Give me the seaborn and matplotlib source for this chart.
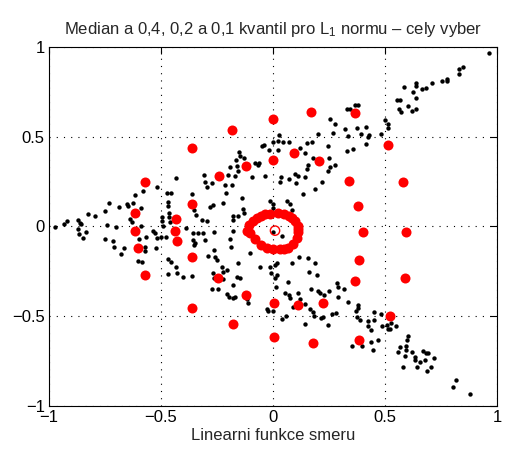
import matplotlib
matplotlib.use("Agg")
import matplotlib.pyplot as plt
import seaborn as sns
import pandas as pd

# ---------------- data ----------------
title_text = "Median a 0,4, 0,2 a 0,1 kvantil pro L$_1$ normu \u2013 cely vyber"
xlabel_text = "Linearni funkce smeru"
tick_values = [-1, -0.5, 0, 0.5, 1]
tick_labels = ["\u22121", "\u22120.5", "0", "0.5", "1"]

# black points (x, y)
black_x = [
    0.329, 0.254, 0.277, 0.321, 0.266, 0.336, 0.199, 0.028, 0.024, 0.043, 0.001, 0.073, 0.153, 0.176,
    -0.051, -0.040, -0.018, 0.024, 0.121, 0.143, 0.244, 0.329, -0.152, -0.147, -0.129, -0.165, 0.180, 0.251,
    0.964, 0.850, 0.830, 0.830, 0.778, 0.778, 0.753, 0.708, 0.637, 0.637, 0.682, 0.664, 0.585, 0.626,
    0.638, 0.552, 0.567, 0.601, 0.564, 0.571, 0.619, 0.637, 0.344, 0.366, 0.381, 0.500, 0.515, 0.512,
    0.376, 0.415, 0.391, 0.430, 0.423, 0.481, 0.414, 0.359,
    -0.973, -0.932, -0.921, -0.872, -0.862, -0.857, -0.825, -0.795, -0.750, -0.731, -0.686, -0.653,
    -0.646, -0.626, -0.616, -0.591, -0.579, -0.519, -0.433, -0.475, -0.455, -0.360, -0.470, -0.467,
    -0.353, -0.344, -0.463, -0.463, -0.497, -0.497, -0.460, -0.638, -0.631, -0.743, -0.701, -0.589,
    -0.390, -0.492, -0.869, -0.835, -0.865, -0.847, -0.534, -0.527, -0.519, -0.500, -0.478, -0.359,
    -0.356, -0.353, -0.598, -0.568, -0.750, -0.716, -0.710, -0.664, -0.679, -0.571, -0.571, -0.522,
    -0.604, -0.586, -0.467, -0.455, -0.433, -0.400, -0.360, -0.470,
    -0.080, -0.068, -0.061, -0.192, -0.162, -0.155, 0.158, 0.153, 0.254, 0.277, 0.247, -0.308,
    -0.304, -0.274, -0.296, -0.200, -0.170, -0.095, -0.036, 0.034, 0.031, 0.070, 0.098, 0.113, 0.103,
    0.143, 0.217, -0.210, -0.214, -0.184, -0.140, -0.013, -0.001, -0.001, 0.061, 0.076, 0.083, 0.135,
    0.188, -0.281, -0.266, -0.222, -0.133, -0.129, -0.318, -0.296, -0.180, -0.177, -0.155, -0.333,
    -0.311, -0.262, -0.177, -0.348, -0.304, -0.192, -0.189, -0.263, 0.001, 0.042, -0.289, -0.259,
    -0.251, -0.229, -0.207, -0.155, -0.162, -0.147, -0.103, -0.058, -0.013, 0.009, 0.019, 0.083,
    0.117, 0.158, 0.188, 0.162, 0.198, 0.009, 0.016,
    -0.427,
    -0.266, -0.225, -0.263, -0.222, -0.274, -0.244, -0.177, -0.204, -0.195, -0.180, -0.170, -0.115,
    -0.110, -0.009, 0.013, 0.068, 0.054, 0.073, 0.076, 0.113, 0.121, 0.143, 0.091, 0.168, 0.202,
    0.210, 0.228, 0.251, 0.284, 0.292, 0.317, 0.336, 0.292, 0.165, 0.177, 0.185, 0.213, 0.225,
    0.244, 0.265, 0.281, 0.143, 0.058, 0.039, -0.025, -0.021, -0.001,
    0.381, 0.381, 0.371, 0.373, 0.388, 0.452, 0.481, 0.426, 0.451, 0.423, 0.438, 0.485, 0.510,
    0.525, 0.548, 0.512, 0.522, 0.470, 0.438, 0.445, 0.354, 0.399, 0.604, 0.597, 0.567, 0.594,
    0.559, 0.594, 0.589, 0.619, 0.634, 0.634, 0.656, 0.671, 0.683, 0.693, 0.679, 0.719, 0.644,
    0.579, 0.705, 0.686, 0.817, 0.805, 0.879,
]
black_y = [
    0.657, 0.601, 0.569, 0.542, 0.521, 0.503, 0.516, 0.508, 0.477, 0.468, 0.468, 0.468, 0.466, 0.469,
    0.447, 0.453, 0.425, 0.425, 0.440, 0.412, 0.447, 0.421, 0.416, 0.392, 0.382, 0.373, 0.382, 0.379,
    0.966, 0.888, 0.879, 0.847, 0.823, 0.810, 0.810, 0.799, 0.801, 0.782, 0.771, 0.768, 0.777, 0.749,
    0.718, 0.703, 0.703, 0.669, 0.657, 0.638, 0.643, 0.657, 0.657, 0.675, 0.679, 0.592, 0.569, 0.551,
    0.549, 0.555, 0.518, 0.508, 0.499, 0.514, 0.457, 0.429,
    -0.001, 0.014, 0.032, 0.036, 0.021, 0.014, 0.068, 0.058, 0.086, 0.129, 0.107, 0.123,
    0.116, 0.132, 0.175, 0.104, 0.197, 0.218, 0.268, 0.188, 0.188, 0.181, 0.138, 0.114,
    0.092, 0.066, 0.077, 0.055, 0.051, 0.031, 0.027, 0.040, 0.027, 0.007, -0.001, 0.003,
    -0.007, 0.003, -0.016, -0.029, -0.043, -0.066, -0.025, -0.034, -0.066, -0.060, -0.060, -0.034,
    -0.075, -0.103, -0.071, -0.060, -0.071, -0.079, -0.112, -0.118, -0.154, -0.116, -0.136, -0.118,
    -0.192, -0.199, -0.181, -0.199, -0.223, -0.279, -0.273, -0.264,
    0.354, 0.342, 0.351, 0.332, 0.336, 0.310, 0.342, 0.318, 0.332, 0.342, 0.310, 0.286,
    0.249, 0.243, 0.221, 0.286, 0.281, 0.277, 0.281, 0.277, 0.249, 0.262, 0.292, 0.281, 0.243,
    0.277, 0.249, 0.184, 0.231, 0.231, 0.160, 0.143, 0.125, 0.101, 0.143, 0.125, 0.092, 0.179,
    0.207, 0.110, 0.119, 0.132, 0.095, 0.073, 0.036, 0.032, 0.036, 0.060, 0.058, -0.034,
    -0.034, -0.029, -0.023, -0.093, -0.075, -0.071, -0.112, -0.131, -0.029, -0.053, -0.164, -0.171,
    -0.186, -0.223, -0.242, -0.201, -0.279, -0.288, -0.149, -0.223, -0.227, -0.214, -0.201, -0.205,
    -0.168, -0.173, -0.201, -0.255, -0.269, -0.288, -0.269,
    -0.257,
    -0.257, -0.251, -0.288, -0.293, -0.349, -0.349, -0.325, -0.375, -0.390, -0.399, -0.395, -0.405,
    -0.427, -0.257, -0.338, -0.310, -0.371, -0.381, -0.399, -0.368, -0.405, -0.431, -0.449, -0.349, -0.362,
    -0.371, -0.381, -0.357, -0.316, -0.338, -0.349, -0.421, -0.390, -0.460, -0.479, -0.501, -0.510, -0.504,
    -0.547, -0.486, -0.482, -0.542, -0.501, -0.516, -0.460, -0.473, -0.468,
    -0.436, -0.454, -0.473, -0.504, -0.519, -0.479, -0.486, -0.529, -0.523, -0.553, -0.575, -0.553, -0.547,
    -0.538, -0.553, -0.571, -0.571, -0.631, -0.645, -0.686, -0.664, -0.664, -0.608, -0.631, -0.671, -0.664,
    -0.701, -0.690, -0.719, -0.701, -0.727, -0.746, -0.757, -0.696, -0.705, -0.705, -0.742, -0.732, -0.782,
    -0.782, -0.782, -0.807, -0.853, -0.896, -0.932,
]

# red quantile points: 0.1 quantile (outer), 0.2 quantile (middle), 0.4 quantile (inner ring)
red_x = [
    -0.571, -0.604, -0.616, -0.616, -0.571, -0.360, -0.184, 0.001, 0.168, 0.366, 0.515, 0.582,
    0.594, 0.589, 0.522, 0.384, 0.180, 0.006, -0.180, -0.363,
    -0.433, -0.438, -0.427, -0.360, -0.360, -0.244, -0.121, 0.006, 0.110, 0.222, 0.366, 0.385,
    0.400, 0.381, 0.339, 0.207, 0.094, 0.001, -0.121, -0.240,
    -0.054, -0.034, -0.013, 0.021, 0.048, 0.073, 0.086, 0.098, 0.110, 0.112, 0.113, 0.106, 0.090,
    0.068, 0.050, 0.031, -0.001, -0.028, -0.054, -0.080, -0.103, -0.115, -0.106, -0.088, -0.072,
]
red_y = [
    -0.272, -0.121, -0.023, 0.077, 0.246, 0.440, 0.536, 0.601, 0.636, 0.631, 0.453, 0.246,
    -0.029, -0.288, -0.501, -0.631, -0.649, -0.616, -0.542, -0.453,
    0.040, -0.025, -0.081, 0.123, -0.171, -0.289, -0.381, -0.427, -0.436, -0.427, -0.306, -0.186,
    -0.029, 0.114, 0.254, 0.364, 0.410, 0.372, 0.338, 0.281,
    0.060, 0.068, 0.069, 0.073, 0.070, 0.058, 0.048, 0.032, 0.003, -0.015, -0.032, -0.066, -0.095,
    -0.118, -0.125, -0.127, -0.127, -0.120, -0.103, -0.071, -0.038, -0.025, 0.008, 0.032, 0.048,
]

# median (open circle)
median_x = [0.009]
median_y = [-0.023]

# ---------------- plot ----------------
sns.set_style("white")
plt.rcParams["font.family"] = ["Liberation Sans", "DejaVu Sans"]
plt.rcParams["mathtext.fontset"] = "custom"
plt.rcParams["mathtext.rm"] = "Liberation Sans"
plt.rcParams["mathtext.it"] = "Liberation Sans"
plt.rcParams["mathtext.default"] = "regular"

black_df = pd.DataFrame({"x": black_x, "y": black_y})
red_df = pd.DataFrame({"x": red_x, "y": red_y})
med_df = pd.DataFrame({"x": median_x, "y": median_y})

fig = plt.figure(figsize=(5.06, 4.54), dpi=100)
ax = fig.add_axes([49 / 506, 48 / 454, 448 / 506, 359 / 454])

sns.scatterplot(data=black_df, x="x", y="y", color="black", s=10, linewidth=0, ax=ax, zorder=3)
sns.scatterplot(data=red_df, x="x", y="y", color="red", s=52, linewidth=0, ax=ax, zorder=4)
sns.scatterplot(data=med_df, x="x", y="y", color="red", facecolor="none", edgecolor="red",
                s=45, linewidth=1.0, ax=ax, zorder=5)

ax.set_xlim(-1, 1)
ax.set_ylim(-1, 1)
ax.set_xticks(tick_values)
ax.set_xticklabels(tick_labels)
ax.set_yticks(tick_values)
ax.set_yticklabels(tick_labels)

ax.set_axisbelow(True)
ax.grid(True, color="black", linewidth=0.8, linestyle=(0, (1, 5.5)))
for sp in ax.spines.values():
    sp.set_visible(True)
    sp.set_color("black")
    sp.set_linewidth(0.8)
ax.tick_params(direction="in", length=5, width=0.8, top=True, right=True,
               labelsize=12, colors="black", pad=3)

ax.set_xlabel(xlabel_text, fontsize=12, labelpad=2)
ax.set_ylabel("")
ax.set_title(title_text, fontsize=12, pad=9)

fig.savefig("out.png", dpi=100)
